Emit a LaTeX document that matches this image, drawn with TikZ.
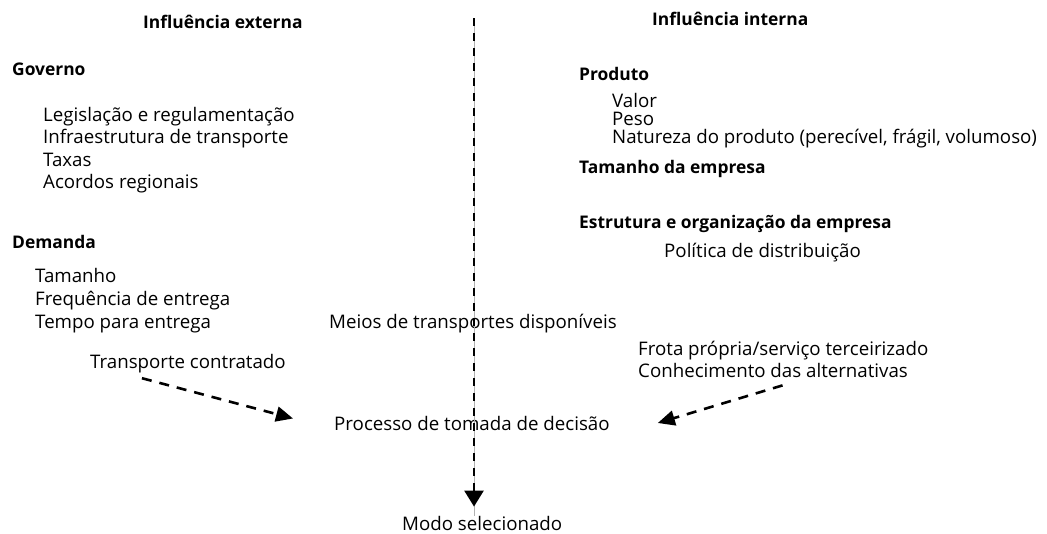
\documentclass[tikz,border=0pt]{standalone}
\usepackage{fontspec}
\setmainfont{Open Sans}
\usetikzlibrary{arrows.meta}
\tikzset{x=1pt, y=-1pt,
  every node/.style={inner sep=0pt, anchor=base west, font=\fontsize{18.7}{21}\selectfont},
  titulo/.style={font=\fontsize{17.4}{20}\selectfont\bfseries},
  seta/.style={line width=2.6pt, dash pattern=on 10pt off 8pt, -{Triangle[length=17pt,width=15pt]}},
  setav/.style={line width=2.6pt, dash pattern=on 8pt off 7pt, -{Triangle[length=16pt,width=19pt]}},
  fio/.style={gray!60, line width=0.5pt}}

\begin{document}
\begin{tikzpicture}
   \useasboundingbox (0,0) rectangle (1047,533);
   % influencia externa
   \node[titulo] (titext) at (143,28) {Influência externa};
   \node[titulo] (governo) at (12,75) {Governo};
   \node (legisl) at (43,121) {Legislação e regulamentação};
   \node (infra) at (43,143.5) {Infraestrutura de transporte};
   \node (taxas) at (43,166) {Taxas};
   \node (acordos) at (43,188.5) {Acordos regionais};
   \node[titulo] (demanda) at (12,248) {Demanda};
   \node (tamanho) at (35,282) {Tamanho};
   \node (frequencia) at (35,305) {Frequência de entrega};
   \node (tempo) at (35,328) {Tempo para entrega};
   \node (contratado) at (90,368) {Transporte contratado};
   % influencia interna
   \node[titulo] (titint) at (652,25) {Influência interna};
   \node[titulo] (produto) at (579,80) {Produto};
   \node (valor) at (612,107) {Valor};
   \node (peso) at (612,125) {Peso};
   \node (natureza) at (612,143) {Natureza do produto (perecível, frágil, volumoso)};
   \node[titulo] (tamemp) at (579,173) {Tamanho da empresa};
   \node[titulo] (estrutura) at (579,228) {Estrutura e organização da empresa};
   \node (politica) at (664,257) {Política de distribuição};
   \node (frota) at (638,355) {Frota própria/serviço terceirizado};
   \node (conhecimento) at (638,377) {Conhecimento das alternativas};
   % centro
   \node (meios) at (329,328) {Meios de transportes disponíveis};
   \node (processo) at (334,430) {Processo de tomada de decisão};
   \node (modo) at (402,530) {Modo selecionado};
   \coordinate (topo) at (474,18);
   \draw[fio] (topo) -- (topo |- modo.north);
   \draw[setav, shorten >=9pt] (topo) -- (topo |- modo.north);
   \draw[seta] ([shift={(-46,5.5)}]contratado.south) -- ([shift={(-41,-4.5)}]processo.west);
   \draw[seta] ([shift={(9.5,8)}]conhecimento.south) -- ([shift={(48,0)}]processo.east);
\end{tikzpicture}
\end{document}
